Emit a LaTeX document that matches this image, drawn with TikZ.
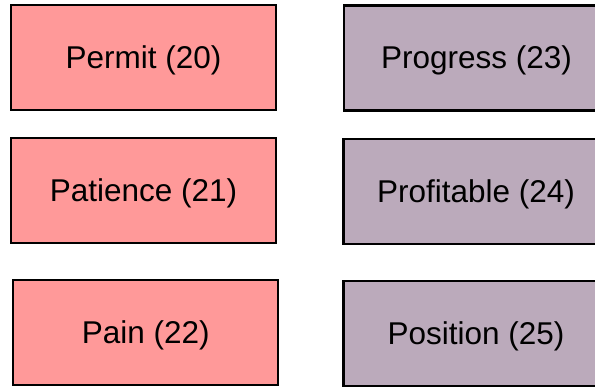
\documentclass[tikz,border=0pt]{standalone}
\usepackage{fontspec}
\setmainfont{Liberation Sans}
\definecolor{pinkfill}{HTML}{FF9999}
\definecolor{mauvefill}{HTML}{BBAABB}
\newcommand{\lowtext}[1]{\raisebox{-2.5pt}[\height][\depth]{#1}}
\begin{document}
\begin{tikzpicture}[x=1pt,y=-1pt,
  box/.style={draw=black, line width=2.2pt, rectangle, inner sep=0pt,
    minimum width=265pt, minimum height=105pt,
    font=\fontsize{31.5}{38}\selectfont},
  pinkbox/.style={box, fill=pinkfill},
  mauvebox/.style={box, fill=mauvefill}]
\useasboundingbox (0,0) rectangle (595,388);
\node[pinkbox] (permit) at (143.5,57.5) {\lowtext{Permit (20)}};
\node[pinkbox] (patience) at (143.5,190.5) {\lowtext{Patience (21)}};
\node[pinkbox] (pain) at (145.75,332.5) {\lowtext{Pain (22)}};
\node[mauvebox] (progress) at (476.5,58) {\lowtext{Progress (23)}};
\node[mauvebox] (profitable) at (476,191.5) {\lowtext{Profitable (24)}};
\node[mauvebox] (position) at (476,333.5) {\lowtext{Position (25)}};
\end{tikzpicture}
\end{document}
